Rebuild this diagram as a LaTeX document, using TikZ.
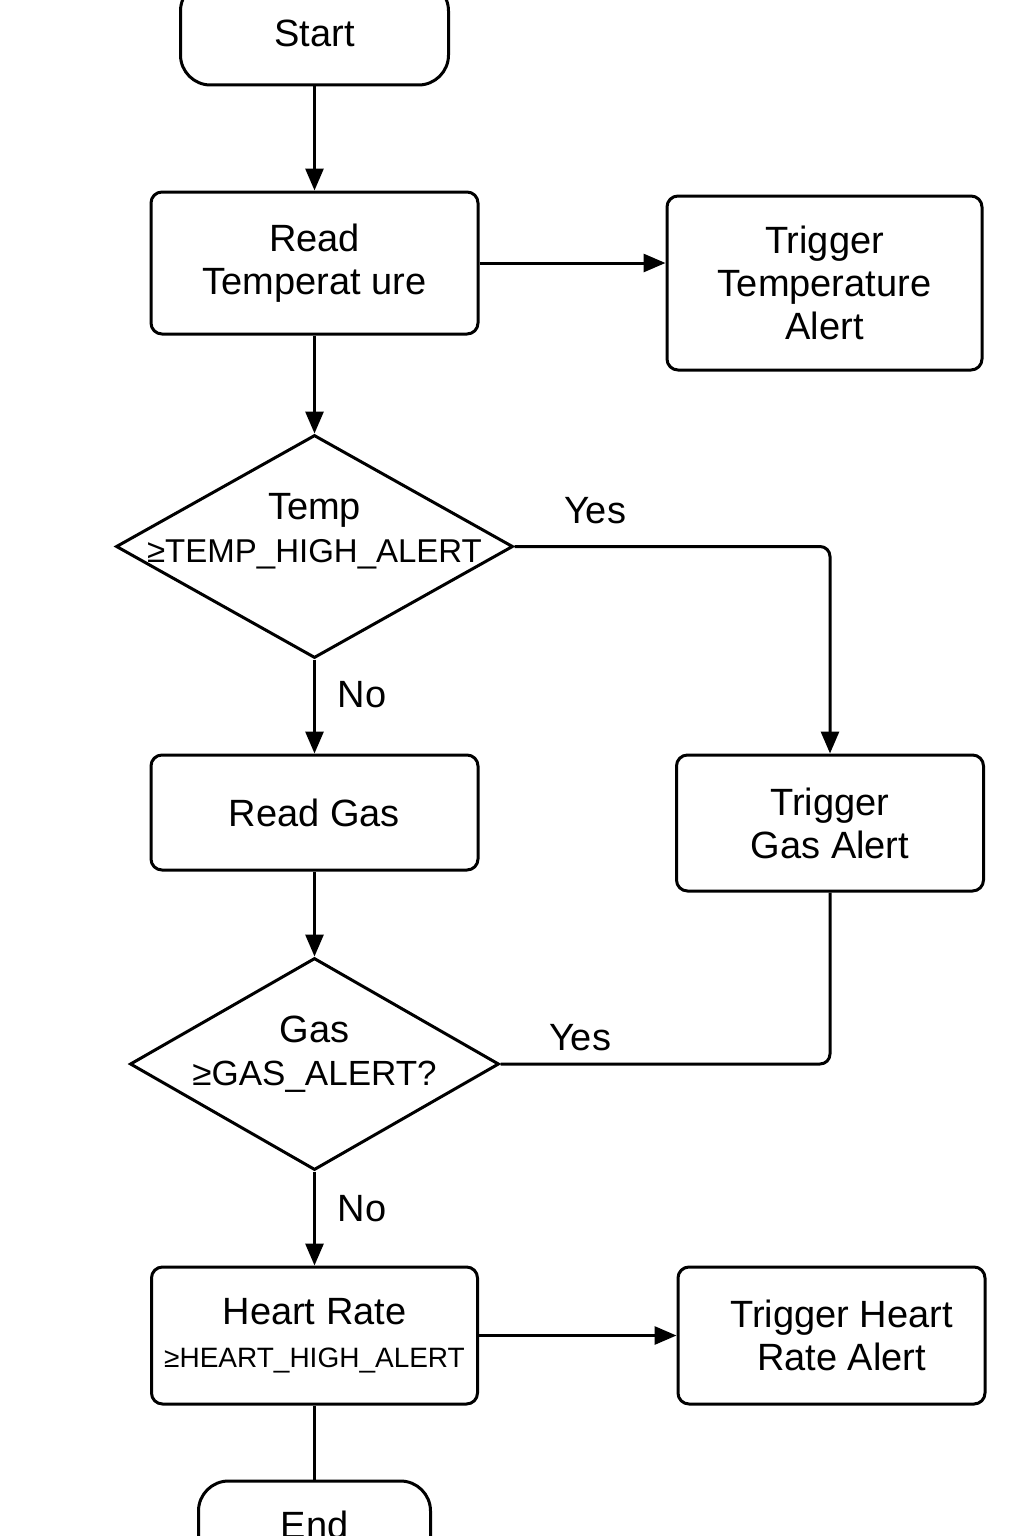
\documentclass[tikz,border=0pt]{standalone}
\usepackage{fontspec}
\setmainfont{Liberation Sans}
\usetikzlibrary{shapes.geometric,arrows.meta}
\tikzset{
  main/.style={font=\fontsize{38}{43}\selectfont},
  box/.style={main, draw, line width=3pt, rectangle, rounded corners=11pt, inner sep=0pt, align=center},
  term/.style={box, rounded corners=30pt},
  dec/.style={draw, line width=3pt, diamond, inner sep=0pt},
  dtext/.style={main, align=center, inner sep=0pt},
  lbl/.style={main, inner sep=0pt},
  conn/.style={line width=3pt},
  arr/.style={conn, -{Triangle[length=22pt,width=18pt]}}
}
\begin{document}
\begin{tikzpicture}[x=1pt,y=-1pt]
\useasboundingbox (0,0) rectangle (1024,1536);
% nodes
\node[term, minimum width=268pt, minimum height=104pt] (start) at (314.5,33) {Start};
\node[box, minimum width=327pt, minimum height=142pt] (readT) at (314.5,263) {Read\\Temperat ure};
\node[box, minimum width=315pt, minimum height=174pt] (trigT) at (824.5,283) {Trigger\\Temperature\\Alert};
\node[dec, minimum width=397pt, minimum height=223pt] (diaT) at (314.5,546.5) {};
\node[dtext] (diaTtext) at (314.5,531) {Temp\\{\fontsize{33}{40}\selectfont ≥TEMP\_HIGH\_ALERT}};
\node[box, minimum width=327pt, minimum height=115pt] (readG) at (314.5,812.5) {Read Gas};
\node[box, minimum width=307pt, minimum height=136pt] (trigG) at (830,823) {Trigger\\Gas Alert};
\node[dec, minimum width=369pt, minimum height=212pt] (diaG) at (314.5,1064) {};
\node[dtext] (diaGtext) at (314.5,1054) {Gas\\{\fontsize{35}{42}\selectfont ≥GAS\_ALERT?}};
\node[box, minimum width=326pt, minimum height=137pt] (heart) at (314.5,1335.5) {Heart Rate\\{\fontsize{28}{38}\selectfont ≥HEART\_HIGH\_ALERT}};
\node[box, minimum width=307pt, minimum height=137pt] (trigH) at (831.5,1335.5) {\hspace*{20pt}Trigger Heart\\\hspace*{20pt}Rate Alert};
\node[term, minimum width=232pt, minimum height=88pt] (endN) at (314.5,1525) {End};
% labels
\node[lbl] (yes1) at (595,511) {Yes};
\node[lbl] (no1) at (362,695) {No};
\node[lbl] (yes2) at (580,1038) {Yes};
\node[lbl] (no2) at (362,1209) {No};
% connectors
\draw[arr] (start.south) -- (readT.north);
\draw[arr] (readT.east) -- (readT.east -| trigT.west);
\draw[arr] (readT.south) -- (diaT.north);
\draw[arr, rounded corners=10pt] (diaT.east) -| (trigG.north);
\draw[arr] (diaT.south) -- (readG.north);
\draw[arr] (readG.south) -- (diaG.north);
\draw[conn, rounded corners=10pt] (diaG.east) -| (trigG.south);
\draw[arr] (diaG.south) -- (heart.north);
\draw[arr] (heart.east) -- (trigH.west);
\draw[conn] (heart.south) -- (endN.north);
\end{tikzpicture}
\end{document}
